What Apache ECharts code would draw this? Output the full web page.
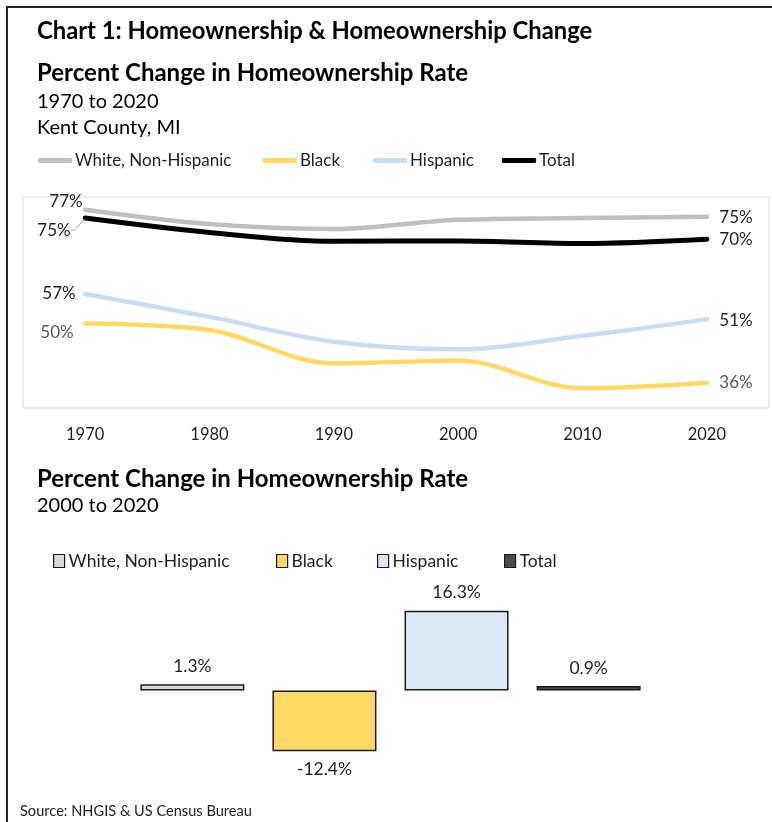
<!DOCTYPE html>
<html>
<head>
<meta charset="utf-8">
<title>Homeownership &amp; Homeownership Change</title>
<script src="https://cdn.jsdelivr.net/npm/echarts@6/dist/echarts.min.js"></script>
<style>
  html, body { margin: 0; padding: 0; background: #ffffff; }
  #chart { width: 772px; height: 822px; }
</style>
</head>
<body>
<div id="chart"></div>
<script>
// Homeownership rate (%) by decade, Kent County, MI
const years = ['1970', '1980', '1990', '2000', '2010', '2020'];
const whiteNonHispanic = [77, 73.6, 72.4, 74.6, 75.0, 75.3];
const black = [50, 48.5, 40.6, 41.2, 34.7, 36];
const hispanic = [57, 51.6, 45.7, 43.9, 47.1, 51];
const total = [75, 71.6, 69.5, 69.6, 69.0, 70];

// Percent change in homeownership rate, 2000 to 2020
const groups = ['White, Non-Hispanic', 'Black', 'Hispanic', 'Total'];
const change2000to2020 = [1.3, -12.4, 16.3, 0.9];

const FONT = 'Lato';
const DARK = '#1f1f1f';
const lineColors = ['#bfbfbf', '#ffd966', '#c9dcf0', '#000000'];
const barColors = ['#d9d9d9', '#ffd966', '#dae7f5', '#4a4a4a'];

// End-point label settings for each line: [first point, last point]
const endLabels = {
  'White, Non-Hispanic': [
    { position: 'left', distance: 2, offset: [0, -8], color: DARK },
    { position: 'right', distance: 12, offset: [0, 1], color: DARK }
  ],
  'Black': [
    { position: 'left', distance: 11, offset: [0, 9], color: '#595959' },
    { position: 'right', distance: 12, offset: [0, 0], color: '#595959' }
  ],
  'Hispanic': [
    { position: 'left', distance: 9, offset: [0, -1], color: DARK },
    { position: 'right', distance: 12, offset: [0, 1], color: DARK }
  ],
  'Total': [
    { position: 'left', distance: 5, offset: [0, 0], color: DARK, leader: true },
    { position: 'right', distance: 12, offset: [0, 1], color: DARK }
  ]
};

function lineData(name, values) {
  const cfg = endLabels[name];
  return values.map((v, i) => {
    const item = { value: v };
    const c = i === 0 ? cfg[0] : (i === values.length - 1 ? cfg[1] : null);
    if (c) {
      item.label = {
        show: true,
        position: c.position,
        distance: c.distance,
        offset: c.offset,
        color: c.color,
        formatter: (p) => Math.round(p.value) + '%'
      };
      item.labelLine = { show: !!c.leader, length2: 4 };
    }
    return item;
  });
}

function lineSeries(name, values, color, width) {
  return {
    name: name,
    type: 'line',
    xAxisIndex: 0,
    yAxisIndex: 0,
    smooth: 0.35,
    symbol: 'circle',
    symbolSize: 1,
    showSymbol: true,
    lineStyle: { color: color, width: width, cap: 'round' },
    itemStyle: { color: color },
    label: { show: false, fontFamily: FONT, fontSize: 17 },
    labelLine: { show: false, length2: 4, lineStyle: { color: '#a6a6a6', width: 1 } },
    data: lineData(name, values),
    z: name === 'Total' ? 4 : 3
  };
}

function barSeries(i) {
  const data = [change2000to2020[i]];
  return {
    name: groups[i],
    type: 'bar',
    xAxisIndex: 1,
    yAxisIndex: 1,
    barWidth: 104,
    barGap: '27%',
    itemStyle: { color: barColors[i], borderColor: '#1a1a1a', borderWidth: 1.5 },
    label: {
      show: true,
      position: change2000to2020[i] < 0 ? 'bottom' : 'top',
      distance: 9,
      fontFamily: FONT,
      fontSize: 17.5,
      color: DARK,
      formatter: (p) => p.value.toFixed(1) + '%'
    },
    data: data
  };
}

const lineLegendLeft = [38, 263, 373, 502];
const barLegendLeft = [53, 276, 377, 504];

const legends = [];
groups.forEach((g, i) => {
  legends.push({
    data: [g],
    left: lineLegendLeft[i],
    top: 152,
    icon: 'roundRect',
    itemWidth: 34,
    itemHeight: 5,
    itemGap: 0,
    padding: 0,
    textStyle: { fontFamily: FONT, fontSize: 17, color: DARK, padding: [0, 0, 0, -2] },
    selectedMode: false,
    itemStyle: { color: lineColors[i] }
  });
});
groups.forEach((g, i) => {
  legends.push({
    data: [{ name: g, itemStyle: { color: barColors[i], borderColor: '#1a1a1a', borderWidth: 1.2 } }],
    left: barLegendLeft[i],
    top: 552,
    icon: 'rect',
    itemWidth: 11,
    itemHeight: 13,
    padding: 0,
    textStyle: { fontFamily: FONT, fontSize: 17.5, color: DARK, padding: [0, 0, 0, -1] },
    selectedMode: false
  });
});

const chart = echarts.init(document.getElementById('chart'), null, { renderer: 'canvas' });

chart.setOption({
  backgroundColor: '#ffffff',
  animation: false,
  textStyle: { fontFamily: FONT },
  title: [
    { text: 'Chart 1: Homeownership & Homeownership Change', left: 37, top: 19, padding: 0,
      textStyle: { fontFamily: FONT, fontWeight: 'bold', fontSize: 23.8, color: '#000' } },
    { text: 'Percent Change in Homeownership Rate', left: 37, top: 61, padding: 0,
      textStyle: { fontFamily: FONT, fontWeight: 'bold', fontSize: 24, color: '#000' } },
    { text: '1970 to 2020', left: 37, top: 92, padding: 0,
      textStyle: { fontFamily: FONT, fontWeight: 'normal', fontSize: 20, color: '#000' } },
    { text: 'Kent County, MI', left: 37, top: 118, padding: 0,
      textStyle: { fontFamily: FONT, fontWeight: 'normal', fontSize: 20, color: '#000' } },
    { text: 'Percent Change in Homeownership Rate', left: 37, top: 467, padding: 0,
      textStyle: { fontFamily: FONT, fontWeight: 'bold', fontSize: 24, color: '#000' } },
    { text: '2000 to 2020', left: 37, top: 496, padding: 0,
      textStyle: { fontFamily: FONT, fontWeight: 'normal', fontSize: 20, color: '#000' } },
    { text: 'Source: NHGIS & US Census Bureau', left: 20, top: 804, padding: 0,
      textStyle: { fontFamily: FONT, fontWeight: 'normal', fontSize: 14.6, color: DARK } }
  ],
  legend: legends,
  grid: [
    { left: 23, top: 197, width: 746, height: 211, show: true, borderColor: '#d9d9d9', borderWidth: 1, backgroundColor: 'transparent' },
    { left: 126, top: 592.5, width: 529, height: 196 }
  ],
  xAxis: [
    {
      gridIndex: 0, type: 'category', data: years, boundaryGap: true,
      axisLine: { show: false }, axisTick: { show: false }, splitLine: { show: false },
      axisLabel: { fontFamily: FONT, fontSize: 16.5, color: DARK, margin: 18 }
    },
    {
      gridIndex: 1, type: 'category', data: [''], show: false
    }
  ],
  yAxis: [
    { gridIndex: 0, type: 'value', min: 30, max: 80, show: false, splitLine: { show: false } },
    { gridIndex: 1, type: 'value', min: -20, max: 20, show: false, splitLine: { show: false } }
  ],
  graphic: [
    {
      type: 'polyline',
      shape: { points: [[7, 830], [7, 7], [780, 7]] },
      style: { stroke: '#222222', lineWidth: 2, fill: null },
      silent: true
    }
  ],
  series: [
    lineSeries(groups[0], whiteNonHispanic, lineColors[0], 4.5),
    lineSeries(groups[1], black, lineColors[1], 4.5),
    lineSeries(groups[2], hispanic, lineColors[2], 4.5),
    Object.assign(lineSeries(groups[3], total, lineColors[3], 5), {
      labelLayout: (p) => p.dataIndex === 0 ? { dx: -9, dy: 12 } : {}
    }),
    barSeries(0), barSeries(1), barSeries(2), barSeries(3)
  ]
});
</script>
</body>
</html>
